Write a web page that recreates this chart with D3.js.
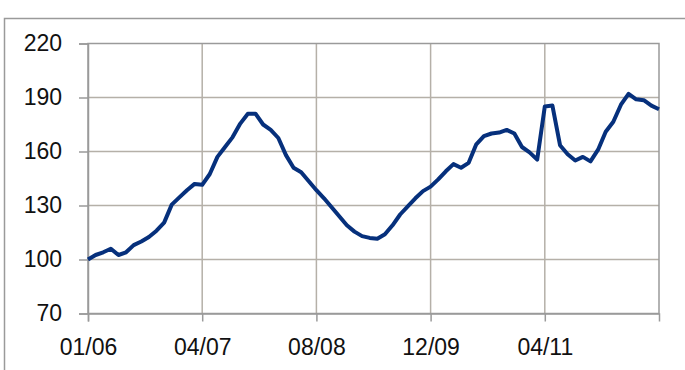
<!DOCTYPE html>
<html>
<head>
<meta charset="utf-8">
<script src="https://cdn.jsdelivr.net/npm/d3@7"></script>
<style>
  body { margin: 0; background: #fff; }
  svg { display: block; }
</style>
</head>
<body>
<div id="chart"></div>
<script>
// monthly index values
const values = [
  100, 102.5, 104, 106, 102.5, 104, 108, 110, 112.5, 116,
  120.5, 130.5, 134.5, 138.5, 142, 141.5, 147.5, 157, 162.5, 168,
  175.5, 181, 181, 175, 172, 167.5, 158, 151, 148.5, 143.5,
  138.5, 134, 129, 124, 119, 115.5, 113, 112, 111.5, 114,
  119, 125, 129.5, 134, 138, 140.5, 144.5, 149, 153, 151,
  153.7, 164, 168.5, 170, 170.5, 172, 170, 162.5, 159.5, 155.5,
  185, 185.5, 163.5, 158.5, 155, 157, 154.5, 161, 171, 176.5,
  186, 192, 189, 188.5, 185.5, 183.5
];
const tickIndex = [0, 15, 30, 45, 60];
const tickLabels = ["01/06", "04/07", "08/08", "12/09", "04/11"];
const yTicks = [70, 100, 130, 160, 190, 220];

const width = 685, height = 370;
const plotL = 88, plotR = 659, plotT = 43.5, plotB = 313.5;

const svg = d3.select("#chart").append("svg")
  .attr("width", width)
  .attr("height", height);

// outer frame (only left and top visible)
svg.append("path")
  .attr("d", `M4.5,${height} V18.5 H${width}`)
  .attr("fill", "none")
  .attr("stroke", "#9a9a9a")
  .attr("stroke-width", 1.5);

const x = d3.scaleLinear().domain([0, values.length - 1]).range([plotL, plotR]);
const y = d3.scaleLinear().domain([70, 220]).range([plotB, plotT]);

// gridlines
svg.append("g").selectAll("line")
  .data(yTicks.slice(1, -1))
  .join("line")
  .attr("x1", plotL).attr("x2", plotR)
  .attr("y1", d => y(d)).attr("y2", d => y(d))
  .attr("stroke", "#b5b0a8")
  .attr("stroke-width", 1.5);

svg.append("g").selectAll("line")
  .data(tickIndex.slice(1))
  .join("line")
  .attr("x1", d => x(d)).attr("x2", d => x(d))
  .attr("y1", plotT).attr("y2", plotB)
  .attr("stroke", "#b5b0a8")
  .attr("stroke-width", 1.5);

// plot border
svg.append("rect")
  .attr("x", plotL).attr("y", plotT)
  .attr("width", plotR - plotL).attr("height", plotB - plotT)
  .attr("fill", "none")
  .attr("stroke", "#9a9a9a")
  .attr("stroke-width", 1.5);

// y axis
const yAxis = svg.append("g")
  .attr("transform", `translate(${plotL},0)`)
  .call(d3.axisLeft(y).tickValues(yTicks).tickSize(9).tickPadding(17));
yAxis.select(".domain").attr("stroke", "#9a9a9a").attr("stroke-width", 1.5);
yAxis.selectAll(".tick line").attr("stroke", "#9a9a9a").attr("stroke-width", 1.5);
yAxis.selectAll("text")
  .attr("font-family", "Liberation Sans, Arial, sans-serif")
  .attr("font-size", 23)
  .attr("fill", "#111");

// x axis
const xAxis = svg.append("g")
  .attr("transform", `translate(0,${plotB})`)
  .call(d3.axisBottom(x).tickValues(tickIndex)
    .tickFormat((d, i) => tickLabels[i])
    .tickSize(8).tickPadding(17));
xAxis.select(".domain").attr("stroke", "#9a9a9a").attr("stroke-width", 1.5);
xAxis.selectAll(".tick line").attr("stroke", "#9a9a9a").attr("stroke-width", 1.5);
xAxis.selectAll("text")
  .attr("font-family", "Liberation Sans, Arial, sans-serif")
  .attr("font-size", 23)
  .attr("fill", "#111");

// series line
const line = d3.line()
  .x((d, i) => x(i))
  .y(d => y(d));

svg.append("path")
  .datum(values)
  .attr("d", line)
  .attr("fill", "none")
  .attr("stroke", "#06307c")
  .attr("stroke-width", 4)
  .attr("stroke-linejoin", "round");
</script>
</body>
</html>
